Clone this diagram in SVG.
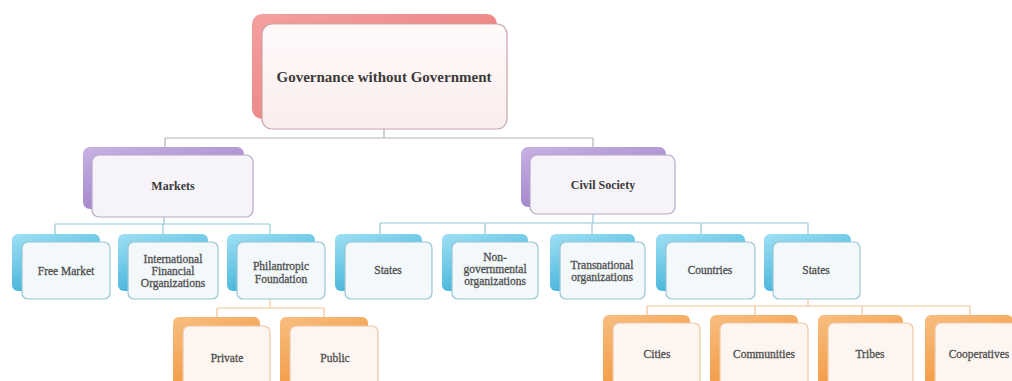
<svg xmlns="http://www.w3.org/2000/svg" width="1012" height="381" viewBox="0 0 1012 381">
<defs>
<linearGradient id="gRed" x1="0" y1="0" x2="1" y2="1"><stop offset="0" stop-color="#f4a0a0"/><stop offset="0.5" stop-color="#ee8a8a"/><stop offset="1" stop-color="#d85c5c"/></linearGradient>
<linearGradient id="gPur" x1="0" y1="0" x2="0.6" y2="1"><stop offset="0" stop-color="#c9b1e4"/><stop offset="1" stop-color="#9a7cc6"/></linearGradient>
<linearGradient id="gCy" x1="0" y1="0" x2="0.5" y2="1"><stop offset="0" stop-color="#9fe0f4"/><stop offset="1" stop-color="#3bb0d8"/></linearGradient>
<linearGradient id="gOr" x1="0" y1="0" x2="0.5" y2="1"><stop offset="0" stop-color="#f8be80"/><stop offset="1" stop-color="#f2963c"/></linearGradient>
<linearGradient id="fRed" x1="0" y1="0" x2="0" y2="1"><stop offset="0" stop-color="#fffafa"/><stop offset="1" stop-color="#fbeded"/></linearGradient>
</defs>
<style>
.t{font-family:"Liberation Serif","DejaVu Serif",serif;text-anchor:middle;dominant-baseline:central}
.tb{font-weight:bold;fill:#3a3a3a}
.ts{font-size:11.5px;fill:#505050;stroke:#505050;stroke-width:0.3}
.bR{fill:url(#gRed)}.fR{fill:url(#fRed);stroke:#c9a3a7;stroke-width:1.2}
.bP{fill:url(#gPur)}.fP{fill:#f6f4f9;stroke:#b5a7c8;stroke-width:1.2}
.bC{fill:url(#gCy)}.fC{fill:#f3f8fa;stroke:#98c6d5;stroke-width:1.2}
.bO{fill:url(#gOr)}.fO{fill:#fdf6f0;stroke:#efc6a3;stroke-width:1.2}
.cg{fill:none;stroke:#aab3bb;stroke-width:1.2}
.cc{fill:none;stroke:#92c9d8;stroke-width:1.2}
.co{fill:none;stroke:#f2c496;stroke-width:1.2}
</style>
<rect width="1012" height="381" fill="#ffffff"/>
<g id="connectors">
<path class="cg" d="M384,129V138M165,138H593M165,138V147M593,138V147"/>
<path class="cc" d="M164,217V224M55,224H270M55,224V234M163,224V234M270,224V234"/>
<path class="cc" d="M593,213V223M380,223H808M380,223V234M485,223V234M592,223V234M701,223V234M808,223V234"/>
<path class="co" d="M270,299V308M217,308H324M217,308V317M324,308V317"/>
<path class="co" d="M808,299V306M647,306H970M647,306V315M755,306V315M862,306V315M970,306V315"/>
</g>
<g id="n-root"><rect class="bR" x="252" y="14" width="245" height="105" rx="10"/><rect class="fR" x="262" y="24" width="245" height="105" rx="10"/><text class="t tb" x="384" y="77" font-size="15">Governance without Government</text></g>
<g id="n-markets"><rect class="bP" x="83" y="147" width="161" height="62" rx="7"/><rect class="fP" x="92" y="155" width="161" height="62" rx="7"/><text class="t tb" x="173" y="186" font-size="12">Markets</text></g>
<g id="n-civil"><rect class="bP" x="521" y="147" width="145" height="60" rx="7"/><rect class="fP" x="530" y="155" width="145" height="59" rx="7"/><text class="t tb" x="603" y="185" font-size="12" fill="#4a4a4a">Civil Society</text></g>
<g id="n-free"><rect class="bC" x="12" y="234" width="88" height="57" rx="6"/><rect class="fC" x="22" y="242" width="88" height="57" rx="6"/><text class="t ts" x="66" y="271">Free Market</text></g>
<g id="n-ifo"><rect class="bC" x="118" y="234" width="90" height="57" rx="6"/><rect class="fC" x="128" y="242" width="90" height="57" rx="6"/><text class="t ts" x="173" y="259">International</text><text class="t ts" x="173" y="271">Financial</text><text class="t ts" x="173" y="283">Organizations</text></g>
<g id="n-phil"><rect class="bC" x="227" y="234" width="88" height="57" rx="6"/><rect class="fC" x="237" y="242" width="88" height="57" rx="6"/><text class="t ts" x="281" y="266">Philantropic</text><text class="t ts" x="281" y="279">Foundation</text></g>
<g id="n-states1"><rect class="bC" x="335" y="234" width="87" height="57" rx="6"/><rect class="fC" x="345" y="242" width="87" height="57" rx="6"/><text class="t ts" x="388" y="270">States</text></g>
<g id="n-ngo"><rect class="bC" x="442" y="234" width="86" height="57" rx="6"/><rect class="fC" x="452" y="242" width="86" height="57" rx="6"/><text class="t ts" x="495" y="257">Non-</text><text class="t ts" x="495" y="269">governmental</text><text class="t ts" x="495" y="281">organizations</text></g>
<g id="n-trans"><rect class="bC" x="550" y="234" width="85" height="57" rx="6"/><rect class="fC" x="560" y="242" width="85" height="57" rx="6"/><text class="t ts" x="602" y="265">Transnational</text><text class="t ts" x="602" y="277">organizations</text></g>
<g id="n-countries"><rect class="bC" x="656" y="234" width="89" height="57" rx="6"/><rect class="fC" x="666" y="242" width="89" height="57" rx="6"/><text class="t ts" x="710" y="270">Countries</text></g>
<g id="n-states2"><rect class="bC" x="764" y="234" width="87" height="57" rx="6"/><rect class="fC" x="773" y="242" width="87" height="57" rx="6"/><text class="t ts" x="816" y="270">States</text></g>
<g id="n-private"><rect class="bO" x="173" y="317" width="87" height="70" rx="6"/><rect class="fO" x="183" y="326" width="87" height="70" rx="6"/><text class="t ts" x="227" y="358">Private</text></g>
<g id="n-public"><rect class="bO" x="280" y="317" width="88" height="70" rx="6"/><rect class="fO" x="290" y="326" width="88" height="70" rx="6"/><text class="t ts" x="335" y="358">Public</text></g>
<g id="n-cities"><rect class="bO" x="603" y="315" width="87" height="70" rx="6"/><rect class="fO" x="613" y="323" width="87" height="70" rx="6"/><text class="t ts" x="657" y="354">Cities</text></g>
<g id="n-communities"><rect class="bO" x="710" y="315" width="88" height="70" rx="6"/><rect class="fO" x="720" y="323" width="88" height="70" rx="6"/><text class="t ts" x="764" y="354">Communities</text></g>
<g id="n-tribes"><rect class="bO" x="818" y="315" width="85" height="70" rx="6"/><rect class="fO" x="828" y="323" width="85" height="70" rx="6"/><text class="t ts" x="870" y="354">Tribes</text></g>
<g id="n-coop"><rect class="bO" x="925" y="315" width="88" height="70" rx="6"/><rect class="fO" x="935" y="323" width="88" height="70" rx="6"/><text class="t ts" x="979" y="354">Cooperatives</text></g>
</svg>
